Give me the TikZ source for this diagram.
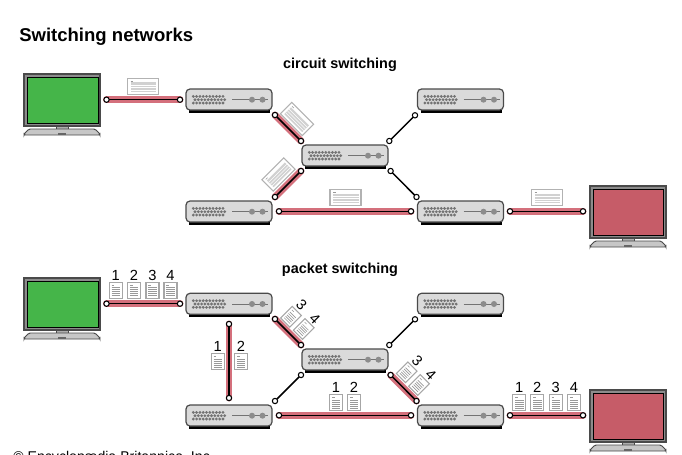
\documentclass[tikz,border=0pt]{standalone}
\usepackage{fontspec}
\setmainfont{Liberation Sans}
\definecolor{hlred}{HTML}{D4707C}
\definecolor{scrgreen}{HTML}{45B549}
\definecolor{scrred}{HTML}{C65C68}
\definecolor{bodygray}{HTML}{DADADA}
\definecolor{edgegray}{HTML}{4A4A4A}
\tikzset{
  port/.style={circle,draw=black,fill=white,line width=0.8pt,inner sep=0pt,minimum size=4pt},
  hl/.style={line width=5.2pt,draw=hlred,line cap=round},
  wire/.style={line width=1.1pt,draw=black},
  heading/.style={font=\fontsize{10.8}{12}\selectfont\bfseries,anchor=base},
  digit/.style={font=\fontsize{11}{12}\selectfont,inner sep=0pt},
  router/.pic={
    \fill[black] (3,21) rectangle (84,24);
    \draw[draw=edgegray,fill=bodygray,line width=0.9pt,rounded corners=3pt] (0,21) -- (0,0) -- (86,0) -- (86,21) -- cycle;
    \foreach \r/\o in {7.4/0,10.7/1.7,14/0}{
      \foreach \k in {0,...,9}{
        \fill[black!55] ({7.3+\o+\k*3.3},\r) circle (1.55);
      }
    }
    \draw[black!55,line width=0.6pt] (46,10.7) -- (82,10.7);
    \fill[black!45] (66,10.7) circle (3);
    \fill[black!45] (76.5,10.7) circle (3);
  },
  monitor/.pic={
    \draw[draw=edgegray,fill=black!45,line width=0.8pt] (0,0) rectangle (76,52);
    \draw[draw=edgegray,fill=bodygray!80!black,line width=0.6pt] (32,52) rectangle (44,55);
    \draw[draw=edgegray,fill=black!22,line width=0.7pt,rounded corners=1pt] (5,55) -- (71,55) -- (76,60) -- (76,61) -- (0,61) -- (0,60) -- cycle;
    \fill[black!60] (34,59.3) rectangle (42,60.5);
  },
  docwide/.pic={
    \draw[draw=black!30,fill=white,line width=0.8pt] (-15.5,-8) rectangle (15.5,8);
    \fill[black!18] (-12.5,-4) rectangle (13,5.5);
    \foreach \y in {-1.5,1,3.5}{\draw[white,line width=0.4pt] (-12.5,\y) -- (13,\y);}
    \draw[black!40,line width=0.4pt] (-12.5,-5.5) -- (-10,-5.5);
  },
  doctall/.pic={
    \draw[draw=black!35,fill=white,line width=0.8pt] (-6.5,-8.2) rectangle (6.5,8.2);
    \foreach \y in {-2.5,-0.5,1.5,3.5,5.5}{\draw[black!40,line width=0.5pt] (-4.2,\y) -- (4.2,\y);}
    \draw[black!40,line width=0.4pt] (-4.2,-5.5) -- (-1.5,-5.5);
  }
}
\newcommand{\linkhl}[4]{%
  \node[port] (#1) at #3 {};
  \node[port] (#2) at #4 {};
  \begin{pgfonlayer}{background}
    \draw[hl] (#1.center) -- (#2.center);
  \end{pgfonlayer}
  \draw[wire,shorten >=2pt,shorten <=2pt] (#1.center) -- (#2.center);
}
\newcommand{\linkplain}[4]{%
  \node[port] (#1) at #3 {};
  \node[port] (#2) at #4 {};
  \draw[wire,shorten >=2pt,shorten <=2pt] (#1.center) -- (#2.center);
}
\pgfdeclarelayer{background}
\pgfsetlayers{background,main}
\begin{document}
\begin{tikzpicture}[x=0.75pt,y=-0.75pt]
\useasboundingbox (0,0) rectangle (682,454);
\clip (0,0) rectangle (682,454);
\node[font=\fontsize{13.9}{16}\selectfont\bfseries,anchor=base west,inner sep=0pt] (title) at (19,41) {Switching networks};
\node[heading,inner sep=0pt] (hc) at (340,68) {circuit switching};
\node[heading,inner sep=0pt] (hp) at (340,273) {packet switching};
\node[font=\fontsize{10.6}{12}\selectfont,anchor=base west,inner sep=0pt] (copy) at (13,461) {© Encyclopædia Britannica, Inc.};
% circuit switching
\pic at (24,74) {monitor};
\fill[scrgreen] (27.5,77) rectangle (98,123);
\draw[black,line width=0.6pt] (27.5,77) rectangle (98,123);
\pic at (590,186) {monitor};
\fill[scrred] (593,189) rectangle (663,235);
\draw[black,line width=0.6pt] (593,189) rectangle (663,235);
\pic at (186,89) {router};
\pic at (302,145) {router};
\pic at (186,201) {router};
\pic at (417.5,89) {router};
\pic at (417.5,201) {router};
\linkhl{c1a}{c1b}{(106.5,99.7)}{(180,99.7)}
\linkhl{c2a}{c2b}{(275,115)}{(301,141)}
\linkhl{c3a}{c3b}{(275,197)}{(301,171)}
\linkhl{c4a}{c4b}{(279,211.3)}{(411,211.3)}
\linkhl{c5a}{c5b}{(510,211.3)}{(583,211.3)}
\linkplain{c6a}{c6b}{(389.3,141)}{(415,115.3)}
\linkplain{c7a}{c7b}{(390.6,171)}{(416.5,197)}
\pic at (143,86.3) {docwide};
\pic[rotate=-45] at (297,119) {docwide};
\pic[rotate=45] at (278.5,174.5) {docwide};
\pic at (345.5,197.5) {docwide};
\pic at (547,197.8) {docwide};
% packet switching
\pic at (24,278) {monitor};
\fill[scrgreen] (27.5,281) rectangle (98,327);
\draw[black,line width=0.6pt] (27.5,281) rectangle (98,327);
\pic at (590,390) {monitor};
\fill[scrred] (593,393) rectangle (663,439);
\draw[black,line width=0.6pt] (593,393) rectangle (663,439);
\pic at (186,293.3) {router};
\pic at (302,349) {router};
\pic at (186,405) {router};
\pic at (417.5,293.3) {router};
\pic at (417.5,405) {router};
\linkhl{p1a}{p1b}{(106.5,303.7)}{(180,303.7)}
\linkhl{p2a}{p2b}{(275,319)}{(301,345)}
\linkhl{p3a}{p3b}{(229,324)}{(229,398)}
\linkplain{p4a}{p4b}{(275,401)}{(301,375)}
\linkhl{p5a}{p5b}{(279,415.3)}{(411,415.3)}
\linkhl{p6a}{p6b}{(510,415.3)}{(583,415.3)}
\linkplain{p7a}{p7b}{(389.3,345)}{(415,319.3)}
\linkhl{p8a}{p8b}{(390.6,375)}{(416.5,401)}
\foreach \x/\t in {115.7/1,134/2,152.5/3,170.5/4}{
  \pic at (\x,290.3) {doctall};
  \node[digit] at (\x,275) {\t};
}
\foreach \x/\t in {217.7/1,241/2}{
  \pic at (\x,361.5) {doctall};
  \node[digit] at (\x,346) {\t};
}
\foreach \x/\t in {336/1,354/2}{
  \pic at (\x,402.5) {doctall};
  \node[digit] at (\x,387) {\t};
}
\foreach \x/\t in {519.3/1,537.3/2,555.7/3,574/4}{
  \pic at (\x,402.5) {doctall};
  \node[digit] at (\x,387) {\t};
}
\pic[rotate=-45] at (291,316.7) {doctall};
\node[digit,rotate=-45] at (301.7,305.3) {3};
\pic[rotate=-45] at (303.7,329) {doctall};
\node[digit,rotate=-45] at (314.7,319) {4};
\pic[rotate=-45] at (406.7,372.3) {doctall};
\node[digit,rotate=-45] at (417.3,361) {3};
\pic[rotate=-45] at (419,385) {doctall};
\node[digit,rotate=-45] at (430.7,375) {4};
\end{tikzpicture}
\end{document}
